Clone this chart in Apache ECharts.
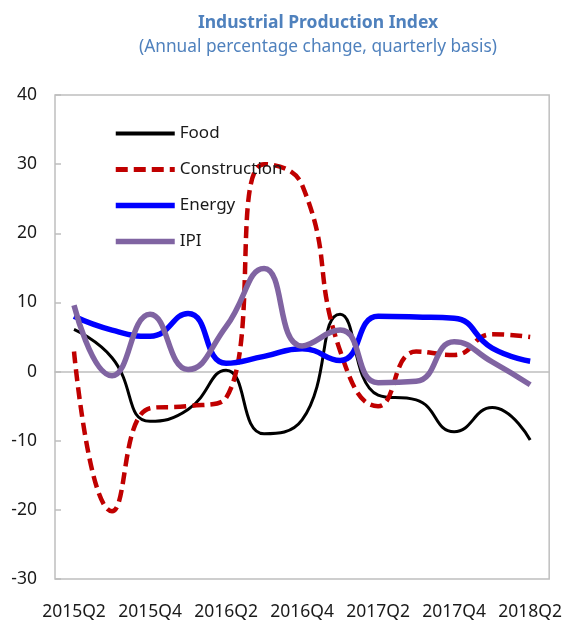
<!DOCTYPE html>
<html>
<head>
<meta charset="utf-8">
<script src="https://cdn.jsdelivr.net/npm/echarts@6/dist/echarts.min.js"></script>
<style>
  html, body { margin: 0; padding: 0; background: #fff; }
  #chart { width: 565px; height: 627px; }
</style>
</head>
<body>
<div id="chart"></div>
<script>
// quarters on the x axis
const quarters = ['2015Q2', '2015Q3', '2015Q4', '2016Q1', '2016Q2', '2016Q3', '2016Q4',
  '2017Q1', '2017Q2', '2017Q3', '2017Q4', '2018Q1', '2018Q2'];

// annual % change
const food = [6.1, 2.0, -7.2, -5.5, 0.2, -9.0, -7.0, 8.3, -3.4, -4.1, -8.7, -5.2, -9.9];
const construction = [2.9, -20.2, -5.3, -5.0, -3.8, 30.0, 27.0, 3.0, -5.0, 2.9, 2.4, 5.4, 5.0];
const energy = [8.0, 6.0, 5.1, 8.4, 1.2, 2.2, 3.3, 1.6, 8.0, 7.9, 7.7, 3.4, 1.5];
const ipi = [9.6, -0.6, 8.3, 0.3, 6.5, 14.9, 3.7, 6.0, -1.6, -1.4, 4.3, 1.4, -1.9];

const yTicks = { min: -30, max: 40, step: 10 };

const fontFamily = '"Noto Sans", sans-serif';
const gridColor = '#bfbfbf';
const labelColor = '#1a1a1a';

const chart = echarts.init(document.getElementById('chart'));
chart.setOption({
  animation: false,
  textStyle: { fontFamily: fontFamily },
  title: {
    text: 'Industrial Production Index',
    subtext: '(Annual percentage change, quarterly basis)',
    left: 313,
    textAlign: 'center',
    top: 9,
    itemGap: 7,
    textStyle: { fontSize: 17.5, fontWeight: 'bold', color: '#4f81bd', fontFamily: fontFamily },
    subtextStyle: { fontSize: 17.3, color: '#4f81bd', fontFamily: fontFamily }
  },
  legend: {
    orient: 'vertical',
    left: 108,
    top: 120,
    itemWidth: 59,
    itemHeight: 14,
    itemGap: 19,
    itemStyle: { opacity: 0 },
    textStyle: { fontSize: 17, color: labelColor, fontFamily: fontFamily },
    data: [
      { name: 'Food', lineStyle: { width: 4 } },
      { name: 'Construction', lineStyle: { width: 5 } },
      { name: 'Energy', lineStyle: { width: 5.5 } },
      { name: 'IPI', lineStyle: { width: 5.5 } }
    ]
  },
  grid: {
    left: 55,
    right: 15,
    top: 95,
    bottom: 48,
    show: true,
    borderColor: gridColor,
    borderWidth: 1.5,
    backgroundColor: 'transparent'
  },
  xAxis: [
    {
      type: 'category',
      data: quarters,
      boundaryGap: true,
      axisLine: { onZero: true, lineStyle: { color: gridColor, width: 1.5 } },
      axisTick: { inside: true, length: 7, interval: 0, lineStyle: { color: gridColor, width: 1.5 } },
      axisLabel: { show: false }
    },
    {
      type: 'category',
      data: quarters,
      position: 'bottom',
      boundaryGap: true,
      axisLine: { show: false, onZero: false },
      axisTick: { show: false },
      axisLabel: { interval: 1, margin: 24, fontSize: 17.5, color: labelColor, fontFamily: fontFamily }
    }
  ],
  yAxis: {
    type: 'value',
    min: yTicks.min,
    max: yTicks.max,
    interval: yTicks.step,
    splitLine: { show: false },
    axisLine: { show: false },
    axisTick: { show: true, inside: true, length: 6, lineStyle: { color: gridColor, width: 1.5 } },
    axisLabel: { margin: 18, fontSize: 17.5, color: labelColor, fontFamily: fontFamily }
  },
  series: [
    {
      name: 'Food',
      type: 'line',
      data: food,
      smooth: true,
      symbol: 'none',
      color: '#000000',
      lineStyle: { color: '#000000', width: 3 }
    },
    {
      name: 'Construction',
      type: 'line',
      data: construction,
      smooth: true,
      symbol: 'none',
      color: '#c00000',
      lineStyle: { color: '#c00000', width: 4.5, type: [12, 6] }
    },
    {
      name: 'Energy',
      type: 'line',
      data: energy,
      smooth: true,
      symbol: 'none',
      color: '#0000ff',
      lineStyle: { color: '#0000ff', width: 5.5 }
    },
    {
      name: 'IPI',
      type: 'line',
      data: ipi,
      smooth: true,
      symbol: 'none',
      color: '#8064a2',
      lineStyle: { color: '#8064a2', width: 5.5 }
    }
  ]
});
</script>
</body>
</html>
